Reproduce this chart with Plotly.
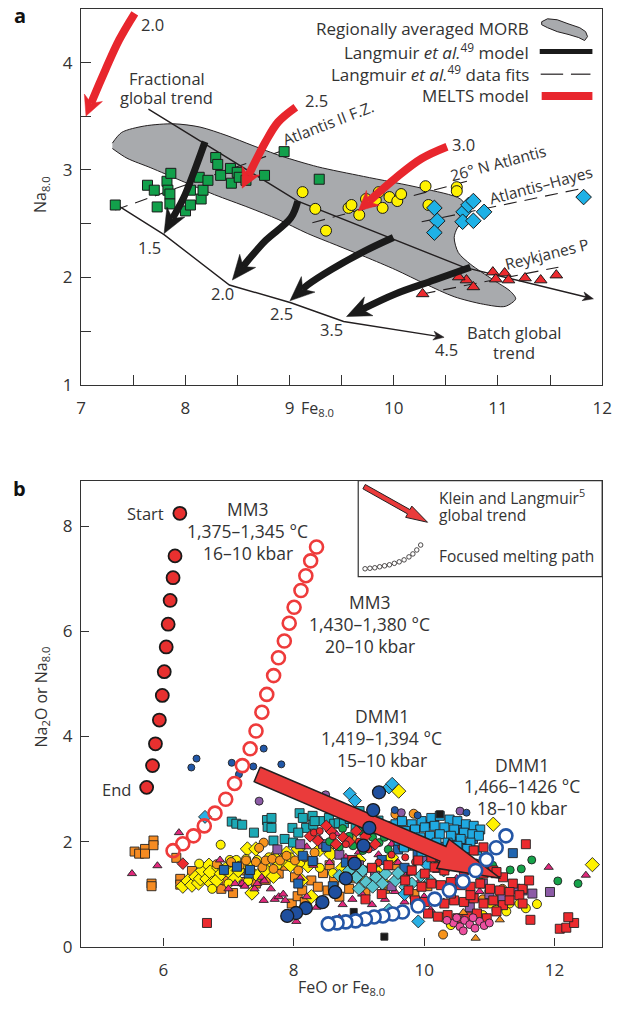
import math
import plotly.graph_objects as go

W, H = 619, 1014
FONT = "Open Sans"
INK = "#333333"

# ======================= PANEL A DATA =======================
morb_x = [7.30, 7.39, 7.61, 7.89, 8.14, 8.40, 8.64, 8.92, 9.27, 9.71, 10.27, 10.64, 10.71, 10.70,
          10.61, 10.58, 10.62, 10.74, 10.95, 11.12, 11.17, 11.07, 10.86, 10.58, 10.30, 10.02,
          9.73, 9.45, 9.17, 8.89, 8.61, 8.28, 7.96, 7.67, 7.44, 7.30]
morb_y = [3.25, 3.35, 3.41, 3.43, 3.40, 3.32, 3.23, 3.13, 3.03, 2.94, 2.83, 2.73, 2.63, 2.56,
          2.46, 2.37, 2.23, 2.12, 1.98, 1.87, 1.80, 1.73, 1.75, 1.82, 1.94, 2.07,
          2.19, 2.30, 2.41, 2.54, 2.65, 2.77, 2.90, 3.02, 3.11, 3.20]

frac_x = [7.646, 9.079, 10.67, 11.916]
frac_y = [3.567, 2.711, 2.095, 1.800]
batch_x = [7.328, 7.796, 8.423, 9.013, 9.519, 10.483]
batch_y = [2.684, 2.398, 1.929, 1.764, 1.589, 1.442]

model_arrows = [
    ([8.189, 8.096, 7.983, 7.796], [3.263, 3.015, 2.739, 2.408]),
    ([9.079, 9.013, 8.770, 8.610, 8.451], [2.711, 2.555, 2.343, 2.168, 1.975]),
    ([9.996, 9.734, 9.406, 9.172, 9.004], [2.371, 2.251, 2.076, 1.929, 1.782]),
    ([10.736, 10.390, 10.015, 9.547], [2.095, 1.975, 1.846, 1.635]),
]
melts_arrows = [
    ([7.515, 7.365, 7.234, 7.112, 7.047], [4.459, 4.211, 3.935, 3.659, 3.502]),
    ([9.060, 8.891, 8.770, 8.639, 8.545], [3.585, 3.447, 3.263, 3.015, 2.831]),
    ([10.511, 10.268, 10.015, 9.828, 9.659], [3.217, 3.107, 2.923, 2.766, 2.619]),
]
fits = [
    ([7.328, 8.929], [2.628, 3.180]),
    ([9.219, 10.736], [2.509, 2.904]),
    ([10.268, 11.822], [2.518, 2.831]),
    ([10.277, 11.580], [1.846, 2.095]),
]

green_x = [7.328, 7.637, 7.702, 7.730, 7.824, 7.861, 7.833, 7.852, 7.852, 8.002, 8.049, 8.049, 8.152,
           8.170, 8.133, 8.217, 8.292, 8.311, 8.339, 8.433, 8.442, 8.498, 8.517, 8.582, 8.760, 8.948, 9.285]
green_y = [2.674, 2.858, 2.812, 2.656, 2.895, 2.969, 2.812, 2.776, 2.684, 2.619, 2.812, 2.674, 2.730,
           2.812, 2.932, 2.904, 3.116, 3.052, 2.950, 3.015, 2.877, 2.978, 2.932, 2.904, 2.950, 3.171, 2.914]
yellow_x = [9.125, 9.247, 9.350, 9.566, 9.594, 9.669, 9.734, 9.828, 9.856, 9.893, 9.959, 10.034,
            10.071, 10.305, 10.333, 10.605, 10.605]
yellow_y = [2.794, 2.638, 2.435, 2.647, 2.674, 2.582, 2.730, 2.720, 2.794, 2.647, 2.748, 2.711,
            2.776, 2.849, 2.674, 2.840, 2.803]
blue_x = [10.390, 10.418, 10.390, 10.670, 10.717, 10.764, 10.661, 10.764, 10.867, 11.822]
blue_y = [2.647, 2.527, 2.417, 2.610, 2.674, 2.711, 2.518, 2.527, 2.610, 2.748]
redtri_x = [10.277, 10.698, 10.764, 10.951, 10.979, 11.064, 11.101, 11.260, 11.410, 11.560, 10.624]
redtri_y = [1.846, 1.975, 1.911, 2.049, 1.984, 2.040, 1.975, 1.994, 1.975, 2.021, 2.003]

# ======================= PANEL B DATA =======================
orange_sq_x = [5.56, 5.63, 5.72, 5.72, 5.85, 5.85, 5.82, 5.82, 6.20, 6.26, 6.26, 6.44, 6.67, 6.89, 6.97, 7.07,
               7.22, 7.24, 7.36, 7.42, 7.57, 7.62, 7.77, 7.87, 7.97, 8.02, 8.06, 8.13, 8.17, 8.27, 8.37, 8.52,
               8.45, 8.62, 8.70, 8.85, 8.95, 9.10, 9.25, 9.40, 9.55, 9.70, 9.85, 10.05, 8.30, 8.55, 7.10, 6.85]
orange_sq_y = [1.81, 1.77, 1.86, 1.77, 2.02, 1.93, 1.20, 1.15, 1.69, 1.29, 1.18, 1.44, 1.32, 1.10, 1.26, 1.02,
               1.45, 1.23, 1.36, 1.20, 1.27, 1.45, 1.39, 1.54, 0.82, 1.32, 0.96, 1.07, 0.85, 1.26, 1.14, 1.07,
               1.40, 1.25, 0.95, 1.10, 1.30, 1.05, 1.45, 1.10, 1.55, 1.30, 1.00, 1.15, 1.60, 1.55, 1.60, 1.45]
yellow_dia_x = [6.30, 6.38, 6.44, 6.50, 6.54, 6.57, 6.60, 6.67, 6.70, 6.72, 6.74, 6.82, 6.85, 6.89, 6.95, 7.04,
                7.10, 7.15, 7.29, 7.30, 7.36, 7.37, 7.42, 7.45, 7.55, 7.57, 7.69, 7.70, 7.80, 7.89, 7.95, 8.07,
                8.12, 8.22, 8.27, 8.57, 8.40, 8.75, 9.00, 9.30, 9.50, 12.58, 9.61, 11.06]
yellow_dia_y = [1.15, 1.25, 1.17, 1.33, 1.21, 1.29, 1.45, 1.29, 1.55, 1.42, 1.20, 1.26, 1.50, 1.39, 1.47, 1.39,
                1.30, 1.45, 1.86, 1.55, 1.02, 1.39, 1.86, 1.35, 1.55, 1.45, 1.34, 1.70, 1.62, 1.78, 1.55, 1.86,
                1.26, 1.54, 0.95, 1.76, 1.85, 1.50, 1.65, 1.40, 1.70, 1.56, 2.96, 2.33]
yellow_circ_x = [6.55, 6.88, 7.02, 7.12, 7.27, 7.44, 7.62, 7.75, 7.95, 8.10, 8.40, 8.60, 7.30, 7.00, 6.75, 8.85,
                 9.10, 9.40, 10.41, 10.66, 11.16, 11.31, 11.56, 11.73, 11.11, 11.46, 11.01, 11.26, 10.90, 10.30, 9.90]
yellow_circ_y = [1.58, 1.94, 1.65, 1.65, 1.67, 1.65, 1.70, 1.55, 1.70, 1.60, 1.50, 1.40, 1.25, 1.20, 1.10, 1.30,
                 1.25, 1.20, 0.41, 0.51, 0.92, 0.82, 0.73, 0.81, 0.70, 0.82, 0.82, 0.67, 0.60, 0.55, 0.80]
orange_circ_x = [7.42, 7.52, 7.54, 7.57, 7.67, 7.69, 7.79, 7.89, 8.02, 8.07, 8.17, 8.32, 8.49, 8.62, 7.17, 7.27,
                 7.04, 7.47, 6.82, 8.90, 9.15, 9.45, 10.29, 10.90, 11.20, 9.56, 9.84]
orange_circ_y = [1.61, 1.51, 1.98, 1.64, 1.67, 1.48, 1.64, 1.73, 1.64, 1.45, 1.70, 1.79, 1.89, 1.95, 1.54, 1.64,
                 1.61, 1.88, 1.57, 2.05, 2.15, 2.30, 0.23, 0.90, 1.10, 2.52, 2.53]
teal_sq_x = [7.05, 7.12, 7.21, 7.39, 7.59, 7.66, 7.60, 7.66, 7.69, 7.86, 8.09, 7.98, 7.99, 8.14, 8.29, 8.41,
             8.54, 8.62, 8.19, 8.07, 8.30, 8.69, 8.77, 8.32, 8.71, 8.86, 9.01, 9.15, 9.30, 9.20, 8.95]
teal_sq_y = [2.38, 2.34, 2.32, 2.17, 2.41, 2.45, 2.28, 2.26, 2.02, 2.05, 2.54, 2.26, 1.98, 2.45, 2.49, 2.39,
             2.45, 2.34, 2.26, 2.17, 2.32, 2.35, 2.35, 2.39, 2.58, 2.43, 2.58, 2.45, 2.40, 2.30, 2.30]
lblue_sq_x = [9.56, 9.66, 9.81, 9.96, 10.11, 10.24, 10.39, 10.51, 10.64, 10.76, 10.86,
              9.51, 9.71, 9.86, 10.01, 10.16, 10.31, 10.46, 10.61, 10.74, 10.84,
              9.61, 9.79, 9.94, 10.09, 10.24, 10.41, 10.56, 10.71,
              9.69, 9.86, 10.04, 10.19, 10.36, 10.51, 10.66, 10.81,
              9.96, 10.16, 10.34, 10.49, 10.64]
lblue_sq_y = [2.33, 2.39, 2.33, 2.39, 2.45, 2.49, 2.42, 2.39, 2.33, 2.30, 2.23,
              2.17, 2.20, 2.23, 2.27, 2.30, 2.27, 2.23, 2.17, 2.14, 2.11,
              2.02, 2.08, 2.08, 2.11, 2.14, 2.11, 2.05, 1.98,
              1.89, 1.92, 1.95, 1.98, 1.98, 1.92, 1.86, 1.83,
              1.80, 1.83, 1.83, 1.73, 1.70]
blue_sq_x = [6.93, 7.13, 7.31, 7.33, 8.07, 8.29, 8.14, 8.50, 8.80, 9.05, 9.35, 9.60, 9.85, 10.05, 10.30, 10.60,
             10.20, 9.90, 10.45, 11.36, 10.75, 10.55, 10.15, 9.70, 8.60]
blue_sq_y = [1.46, 1.52, 1.39, 1.46, 1.20, 1.63, 1.73, 1.90, 1.60, 1.45, 1.65, 1.85, 2.20, 2.00, 1.90, 1.95,
             1.70, 1.75, 2.00, 1.78, 2.05, 2.25, 2.35, 1.50, 1.15]
pink_tri_x = [5.52, 5.91, 6.24, 6.87, 7.00, 7.10, 7.21, 7.25, 7.40, 7.44, 7.51, 7.54, 7.55, 7.65, 7.71, 7.77,
              7.84, 7.87, 8.04, 8.10, 8.20, 8.30, 8.35, 8.45, 8.55, 8.60, 8.70, 8.75, 8.80, 8.90, 9.00, 9.05,
              9.20, 9.30, 9.40, 9.55, 9.60, 9.70, 9.90, 10.10, 10.30, 8.40, 8.65, 9.10, 9.50, 9.75, 10.50,
              10.85, 11.10, 10.00, 10.20, 11.91, 12.48, 10.70, 8.20]
pink_tri_y = [1.39, 1.54, 2.17, 1.65, 1.10, 1.20, 1.20, 1.15, 1.10, 1.20, 1.32, 0.88, 1.25, 1.10, 0.90, 0.95,
              1.00, 0.88, 0.48, 1.30, 0.95, 1.55, 0.75, 0.85, 1.60, 0.50, 0.55, 0.80, 1.70, 0.90, 1.80, 1.00,
              0.80, 1.75, 0.90, 1.05, 1.60, 0.85, 1.20, 0.70, 0.85, 2.05, 2.15, 2.00, 1.95, 1.40, 1.30,
              1.05, 1.35, 0.95, 1.45, 1.51, 1.36, 2.25, 1.90]
purple_sq_x = [8.45, 8.70, 9.00, 9.25, 9.50, 9.80, 10.00, 10.40, 10.70, 11.00, 11.20, 11.40, 11.51, 11.66,
               11.93, 10.90, 8.10, 7.75]
purple_sq_y = [1.95, 1.75, 1.55, 1.35, 1.15, 1.45, 1.65, 1.10, 0.75, 1.00, 0.95, 1.10, 1.07, 1.01,
               1.04, 1.20, 1.95, 1.85]
purple_circ_x = [7.47, 8.49, 9.65, 10.08, 10.55, 10.95, 9.20]
purple_circ_y = [2.77, 2.89, 2.55, 2.35, 2.58, 0.55, 1.90]
turq_dia_x = [8.96, 9.11, 9.26, 9.36, 9.56, 9.71, 9.81, 9.21, 9.41, 9.06, 9.46, 8.85, 9.60, 9.95, 10.10, 8.70, 9.00]
turq_dia_y = [1.32, 1.23, 1.32, 1.20, 1.26, 1.14, 1.20, 1.14, 1.39, 1.45, 0.70, 1.45, 1.40, 1.35, 1.25, 1.35, 1.10]
lblue_dia_x = [8.86, 8.94, 9.46, 9.51, 9.91, 10.30, 10.05, 9.70, 6.64]
lblue_dia_y = [2.91, 2.78, 3.03, 3.10, 0.48, 1.45, 1.55, 1.00, 2.47]
green_circ_x = [8.55, 8.70, 8.85, 8.91, 9.06, 9.21, 9.31, 9.39, 9.45, 9.00, 8.75, 9.60, 9.75, 10.20, 10.40,
                11.32, 11.49, 11.65, 12.05, 12.36, 10.85, 11.05]
green_circ_y = [2.00, 1.90, 2.10, 1.92, 1.83, 2.08, 1.98, 2.08, 1.85, 2.20, 2.25, 2.05, 1.90, 1.55, 1.65,
                1.46, 1.48, 1.65, 1.25, 1.20, 1.35, 1.55]
red_circ_x = [8.31, 8.40, 8.60, 8.80, 9.00, 9.15, 9.30, 9.50, 9.71, 9.86, 10.06, 10.25, 10.45, 10.65, 10.80,
              11.00, 9.95, 9.65]
red_circ_y = [2.17, 2.20, 2.10, 1.95, 2.00, 1.85, 1.60, 1.75, 1.70, 1.61, 1.58, 1.65, 1.55, 1.45, 1.60,
              1.45, 1.85, 1.90]
red_dia_x = [6.30, 8.37, 8.57, 8.76, 8.96, 8.50, 8.65, 8.85, 9.10, 9.25, 8.25, 9.40]
red_dia_y = [1.58, 2.02, 2.20, 2.08, 2.20, 2.30, 1.95, 2.00, 2.10, 1.95, 2.10, 2.20]
red_sq_x = [10.01, 10.16, 10.31, 10.46, 10.61, 10.76, 10.91, 11.06, 11.21, 11.36, 11.51, 11.61,
            9.96, 10.11, 10.26, 10.41, 10.56, 10.71, 10.86, 11.01, 11.16, 11.31, 11.46,
            9.86, 10.01, 10.16, 10.31, 10.46, 10.61, 10.76, 10.91, 11.06, 11.21,
            10.06, 10.21, 10.36, 10.51, 10.66, 10.81, 10.96, 11.11,
            9.71, 9.76, 9.81, 9.91, 10.11, 10.76, 10.91, 11.11,
            10.41, 10.71, 11.31, 11.51, 11.56, 12.08, 12.18, 12.30, 12.21, 11.63, 6.67,
            9.20, 9.45, 9.10, 9.35, 8.90]
red_sq_y = [1.39, 1.51, 1.45, 1.54, 1.45, 1.51, 1.39, 1.45, 1.32, 1.20, 1.10, 1.26,
            1.14, 1.20, 1.17, 1.23, 1.17, 1.14, 1.20, 1.10, 1.07, 1.04, 0.98,
            0.88, 0.85, 0.92, 0.82, 0.88, 0.85, 0.92, 0.82, 0.88, 0.79,
            0.63, 0.57, 0.60, 0.54, 0.57, 0.63, 0.54, 0.67,
            1.26, 1.07, 1.45, 1.64, 1.70, 1.83, 1.89, 1.42,
            1.01, 0.98, 0.88, 0.82, 1.95, 0.34, 0.36, 0.45, 0.56, 0.51, 0.45,
            1.50, 1.55, 0.90, 1.00, 1.65]
pink_circ_x = [10.45, 10.55, 10.62, 10.70, 10.78, 10.85, 10.92, 11.00, 10.50, 10.75, 10.60, 10.35]
pink_circ_y = [0.45, 0.38, 0.50, 0.42, 0.35, 0.48, 0.40, 0.45, 0.55, 0.55, 0.30, 0.50]
blue_circ_x = [6.43, 6.51, 7.05, 7.16, 7.38, 7.54, 7.81, 9.55, 9.90, 10.65]
blue_circ_y = [3.41, 3.58, 3.50, 3.28, 3.43, 3.77, 3.47, 2.60, 2.50, 2.55]
black_sq_x = [9.39, 8.92, 10.24]
black_sq_y = [0.19, 0.66, 2.52]
orange_tri_x = [10.79, 11.16, 10.60]
orange_tri_y = [0.16, 0.51, 0.65]

# model melting paths
mm3a_x = [6.254, 6.180, 6.150, 6.105, 6.075, 6.045, 6.015, 5.985, 5.940, 5.880, 5.835, 5.745]
mm3a_y = [8.249, 7.439, 7.024, 6.591, 6.139, 5.706, 5.235, 4.783, 4.313, 3.861, 3.446, 3.032]
mm3b_x = [8.350, 8.260, 8.186, 8.111, 8.006, 7.931, 7.856, 7.766, 7.692, 7.587, 7.512, 7.422, 7.332,
          7.213, 7.093, 6.958, 6.793, 6.629, 6.464, 6.299, 6.150]
mm3b_y = [7.608, 7.345, 7.062, 6.780, 6.460, 6.158, 5.819, 5.499, 5.160, 4.802, 4.463, 4.105, 3.766,
          3.446, 3.107, 2.806, 2.542, 2.298, 2.109, 1.959, 1.827]
dmm1a_x = [9.308, 9.219, 9.159, 9.069, 8.934, 8.799, 8.635, 8.440, 8.186, 8.036, 7.901]
dmm1a_y = [2.938, 2.599, 2.260, 1.921, 1.582, 1.299, 1.036, 0.847, 0.734, 0.640, 0.584]
dmm1b_x = [11.254, 11.105, 10.955, 10.790, 10.596, 10.386, 10.162, 9.907, 9.668, 9.518, 9.368, 9.234,
           9.099, 8.949, 8.799, 8.665, 8.530]
dmm1b_y = [2.109, 1.883, 1.657, 1.450, 1.243, 1.073, 0.904, 0.772, 0.659, 0.621, 0.584, 0.565,
           0.527, 0.490, 0.471, 0.452, 0.433]
klein_start = (7.44, 3.28)
klein_end = (11.17, 1.30)

# ======================= GEOMETRY =======================
GA = dict(l=78, r=612, t=9, b=389, xr=(7, 12), yr=(1, 4.5))
GB = dict(l=78, r=612, t=486, b=957, xr=(4.74, 12.73), yr=(0, 8.87))


def scale(g):
    return ((g['r'] - g['l']) / (g['xr'][1] - g['xr'][0]),
            (g['b'] - g['t']) / (g['yr'][1] - g['yr'][0]))


SA, SB = scale(GA), scale(GB)


def P(x, y):
    return x / W, 1 - y / H


def arrow(xs, ys, s, hl, hw, notch=0.28):
    sx, sy = s
    xt, yt = xs[-1], ys[-1]
    dx, dy = (xt - xs[-2]) * sx, (yt - ys[-2]) * sy
    L = math.hypot(dx, dy)
    ux, uy = dx / L, dy / L
    nx, ny = -uy, ux
    cut = hl * (1 - notch)
    bx, by = [], []
    for x, y in zip(xs[:-1], ys[:-1]):
        if math.hypot((x - xt) * sx, (y - yt) * sy) > cut + 2:
            bx.append(x)
            by.append(y)
    bx.append(xt - ux * cut / sx)
    by.append(yt - uy * cut / sy)
    rel = [(0, 0), (-ux * hl + nx * hw, -uy * hl + ny * hw), (-ux * cut, -uy * cut),
           (-ux * hl - nx * hw, -uy * hl - ny * hw), (0, 0)]
    hx = [xt + a / sx for a, b in rel]
    hy = [yt + b / sy for a, b in rel]
    return bx, by, hx, hy


fig = go.Figure()


def add_arrow(xs, ys, s, color, width, hl, hw, xa, ya, notch=0.28, spline=True):
    bx, by, hx, hy = arrow(xs, ys, s, hl, hw, notch)
    fig.add_trace(go.Scatter(x=bx, y=by, mode='lines', xaxis=xa, yaxis=ya,
                             line=dict(color=color, width=width, shape='spline' if spline else 'linear'),
                             hoverinfo='skip', showlegend=False))
    fig.add_trace(go.Scatter(x=hx, y=hy, mode='lines', fill='toself', fillcolor=color, xaxis=xa, yaxis=ya,
                             line=dict(color=color, width=0.5), hoverinfo='skip', showlegend=False))


# ---------------- panel a traces ----------------
fig.add_trace(go.Scatter(x=morb_x, y=morb_y, mode='lines', fill='toself', fillcolor='#a8aaad',
                         line=dict(color='#231f20', width=1, shape='spline', smoothing=0.8),
                         xaxis='x', yaxis='y', hoverinfo='skip', showlegend=False))
add_arrow(frac_x, frac_y, SA, '#231f20', 1.4, 11, 4.5, 'x', 'y', spline=False)
add_arrow(batch_x, batch_y, SA, '#231f20', 1.4, 11, 4.5, 'x', 'y', spline=False)
for fx, fy in fits:
    fig.add_trace(go.Scatter(x=fx, y=fy, mode='lines', xaxis='x', yaxis='y',
                             line=dict(color='#231f20', width=1.1, dash='13px,8px'),
                             hoverinfo='skip', showlegend=False))

mk_line = dict(color='#1a1a1a', width=1)
for xs, ys, sym, col, sz in [
    (green_x, green_y, 'square', '#12a04b', 10),
    (yellow_x, yellow_y, 'circle', '#fff200', 11),
    (blue_x, blue_y, 'diamond', '#1eb1e6', 12),
    (redtri_x, redtri_y, 'triangle-up', '#ec2a2e', 11),
]:
    fig.add_trace(go.Scatter(x=xs, y=ys, mode='markers', xaxis='x', yaxis='y',
                             marker=dict(symbol=sym, color=col, size=sz, line=mk_line),
                             hoverinfo='skip', showlegend=False))

for xs, ys in model_arrows:
    add_arrow(xs, ys, SA, '#1a1a1a', 7, 25, 10.5, 'x', 'y', notch=0.3)
for xs, ys in melts_arrows:
    add_arrow(xs, ys, SA, '#e8262d', 8, 20, 10, 'x', 'y', notch=0.3)

# ---------------- panel b traces ----------------
cloud = [
    (orange_sq_x, orange_sq_y, 'square', '#f58b22', 9),
    (yellow_dia_x, yellow_dia_y, 'diamond', '#fff200', 11),
    (yellow_circ_x, yellow_circ_y, 'circle', '#fff200', 9),
    (orange_circ_x, orange_circ_y, 'circle', '#f7941d', 9),
    (teal_sq_x, teal_sq_y, 'square', '#1ba9b6', 9),
    (pink_tri_x, pink_tri_y, 'triangle-up', '#e2287c', 8),
    (purple_sq_x, purple_sq_y, 'square', '#8c5ba6', 9),
    (purple_circ_x, purple_circ_y, 'circle', '#8c5ba6', 8),
    (blue_sq_x, blue_sq_y, 'square', '#2166b1', 9),
    (green_circ_x, green_circ_y, 'circle', '#16a34a', 8),
    (red_dia_x, red_dia_y, 'diamond', '#ec2a2e', 9),
    (red_circ_x, red_circ_y, 'circle', '#ec2a2e', 7),
    (turq_dia_x, turq_dia_y, 'diamond', '#58c4cf', 10),
    (lblue_sq_x, lblue_sq_y, 'square', '#1fa9e1', 9),
    (lblue_dia_x, lblue_dia_y, 'diamond', '#29b0e5', 10),
    (red_sq_x, red_sq_y, 'square', '#ec2a2e', 9),
    (pink_circ_x, pink_circ_y, 'circle', '#ec4f9f', 8),
    (blue_circ_x, blue_circ_y, 'circle', '#2258a8', 7),
    (black_sq_x, black_sq_y, 'square', '#1a1a1a', 7),
    (orange_tri_x, orange_tri_y, 'triangle-up', '#f7941d', 8),
]
for xs, ys, sym, col, sz in cloud:
    fig.add_trace(go.Scatter(x=xs, y=ys, mode='markers', xaxis='x2', yaxis='y2',
                             marker=dict(symbol=sym, color=col, size=sz, line=dict(color='#222', width=0.9)),
                             hoverinfo='skip', showlegend=False))


def block_arrow(p0, p1, s, hw, hl, hh):
    sx, sy = s
    dx, dy = (p1[0] - p0[0]) * sx, (p1[1] - p0[1]) * sy
    L = math.hypot(dx, dy)
    ux, uy = dx / L, dy / L
    nx, ny = -uy, ux
    bl = L - hl
    rel = [(nx * hw, ny * hw), (ux * bl + nx * hw, uy * bl + ny * hw), (ux * bl + nx * hh, uy * bl + ny * hh),
           (ux * L, uy * L), (ux * bl - nx * hh, uy * bl - ny * hh), (ux * bl - nx * hw, uy * bl - ny * hw),
           (-nx * hw, -ny * hw), (nx * hw, ny * hw)]
    return [p0[0] + a / sx for a, b in rel], [p0[1] + b / sy for a, b in rel]


kx, ky = block_arrow(klein_start, klein_end, SB, 8, 64, 16)
fig.add_trace(go.Scatter(x=kx, y=ky, mode='lines', fill='toself', fillcolor='#ea3b3b', xaxis='x2', yaxis='y2',
                         line=dict(color='#231f20', width=1.5), hoverinfo='skip', showlegend=False))

fig.add_trace(go.Scatter(x=mm3a_x, y=mm3a_y, mode='markers', xaxis='x2', yaxis='y2',
                         marker=dict(symbol='circle', color='#e8302f', size=13, line=dict(color='#1a1a1a', width=1.8)),
                         hoverinfo='skip', showlegend=False))
fig.add_trace(go.Scatter(x=mm3b_x, y=mm3b_y, mode='markers', xaxis='x2', yaxis='y2',
                         marker=dict(symbol='circle-open', color='#ee3b3b', size=13, line=dict(color='#ee3b3b', width=2.6)),
                         hoverinfo='skip', showlegend=False))
fig.add_trace(go.Scatter(x=dmm1a_x, y=dmm1a_y, mode='markers', xaxis='x2', yaxis='y2',
                         marker=dict(symbol='circle', color='#1f4f9e', size=13, line=dict(color='#1a1a1a', width=1.3)),
                         hoverinfo='skip', showlegend=False))
fig.add_trace(go.Scatter(x=dmm1b_x, y=dmm1b_y, mode='markers', xaxis='x2', yaxis='y2',
                         marker=dict(symbol='circle', color='white', size=13, line=dict(color='#2456a6', width=2.6)),
                         hoverinfo='skip', showlegend=False))

# ======================= LAYOUT =======================
def ax(g, horizontal, tickvals, ticktext, anchor, ticklen):
    lo, hi = (g['l'], g['r']) if horizontal else (g['b'], g['t'])
    dom = [lo / W, hi / W] if horizontal else [1 - lo / H, 1 - hi / H]
    rng = list(g['xr'] if horizontal else g['yr'])
    return dict(domain=dom, range=rng, anchor=anchor, showgrid=False, zeroline=False, showline=True,
                mirror=True, linecolor=INK, linewidth=1.3, ticks='inside', ticklen=ticklen, tickwidth=1.3,
                tickcolor=INK, tickvals=tickvals, ticktext=ticktext, fixedrange=True,
                ticklabeloverflow='allow', ticklabelstandoff=8 if horizontal else 4,
                tickfont=dict(family=FONT, size=17, color=INK))


a_xt = [7 + 0.5 * i for i in range(11)]
a_yt = [1 + 0.5 * i for i in range(8)]
fmt = lambda v: str(int(v)) if float(v).is_integer() else ''

layout = dict(
    width=W, height=H, autosize=False, margin=dict(l=0, r=0, t=0, b=0),
    paper_bgcolor='white', plot_bgcolor='rgba(0,0,0,0)', showlegend=False,
    xaxis=ax(GA, True, a_xt, [fmt(v) for v in a_xt], 'y', 10),
    yaxis=ax(GA, False, a_yt, [fmt(v) for v in a_yt], 'x', 10),
    xaxis2=ax(GB, True, [6, 8, 10, 12], ['6', '8', '10', '12'], 'y2', 8),
    yaxis2=ax(GB, False, [0, 2, 4, 6, 8], ['0', '2', '4', '6', '8'], 'x2', 8),
)

ann = []


def T(text, x, y, size=16, anchor='center', angle=0, color=INK):
    px, py = P(x, y)
    ann.append(dict(text=text, x=px, y=py, xref='paper', yref='paper', xanchor=anchor, yanchor='middle',
                    showarrow=False, textangle=angle, font=dict(family=FONT, size=size, color=color)))


# panel labels
T('<b>a</b>', 15, 16, size=20, color='#111')
T('<b>b</b>', 15, 494, size=20, color='#111')
# axis titles
T('Na<sub>8.0</sub>', 37, 197, size=16, angle=-90)
T('Fe<sub>8.0</sub>', 320, 413, size=16)
T('Na<sub>2</sub>O or Na<sub>8.0</sub>', 37, 705, size=16, angle=-90)
T('FeO or Fe<sub>8.0</sub>', 345, 998, size=16)

# panel a labels
T('2.0', 137, 25, anchor='left', size=16.5)
T('2.5', 305, 102, anchor='left', size=16.5)
T('3.0', 456, 146, anchor='left', size=16.5)
T('Fractional', 166, 79, size=16.5)
T('global trend', 166, 99, size=16.5)
T('1.5', 148, 250, size=16.5)
T('2.0', 223, 297, size=16.5)
T('2.5', 283, 317, size=16.5)
T('3.5', 335, 333, size=16.5)
T('4.5', 452, 353, size=16.5)
T('Batch global', 522, 336, size=16.5)
T('trend', 522, 356, size=16.5)
T('Atlantis II F.Z.', 331, 124, size=15.5, angle=-21)
T('26° N Atlantis', 505, 165, size=15.5, angle=-15)
T('Atlantis–Hayes', 549, 187, size=15.5, angle=-15)
T('Reykjanes P', 555, 257, size=15.5, angle=-14)

# panel a legend
T('Regionally averaged MORB', 539, 29, anchor='right', size=17)
T('Langmuir <i>et al.</i><sup>49</sup> model', 539, 52, anchor='right', size=17)
T('Langmuir <i>et al.</i><sup>49</sup> data fits', 539, 74, anchor='right', size=17)
T('MELTS model', 539, 97, anchor='right', size=17)

# panel b labels
T('Start', 165, 519, anchor='right', size=16.5)
T('End', 131, 798, anchor='right', size=16.5)
for cx, cy, lines in [
    (249, 515, ['MM3', '1,375–1,345 °C', '16–10 kbar']),
    (374, 609, ['MM3', '1,430–1,380 °C', '20–10 kbar']),
    (386, 724, ['DMM1', '1,419–1,394 °C', '15–10 kbar']),
    (530, 773, ['DMM1', '1,466–1426 °C', '18–10 kbar']),
]:
    for i, t in enumerate(lines):
        T(t, cx, cy + 22 * i, size=17.5)

T('Klein and Langmuir<sup>5</sup>', 443, 502, size=15.5, anchor='left')
T('global trend', 443, 521, size=15.5, anchor='left')
T('Focused melting path', 443, 562, size=15.5, anchor='left')

layout['annotations'] = ann

# ---------------- shapes (legend glyphs) ----------------
shapes = []


def path_px(pts, close=True):
    s = ''
    for i, (x, y) in enumerate(pts):
        px, py = P(x, y)
        s += ('M' if i == 0 else 'L') + f'{px:.5f},{py:.5f}'
    return s + ('Z' if close else '')


blob = [(550, 22), (556, 19), (566, 20), (577, 24), (589, 28), (595, 32), (597, 37), (594, 41),
        (588, 38), (578, 35), (566, 32), (556, 28), (550, 25)]
shapes.append(dict(type='path', xref='paper', yref='paper', path=path_px(blob),
                   fillcolor='#a8aaad', line=dict(color='#231f20', width=1)))


def seg(x0, y0, x1, y1, color, width, dash=None):
    a, b = P(x0, y0)
    c, d = P(x1, y1)
    line = dict(color=color, width=width)
    if dash:
        line['dash'] = dash
    shapes.append(dict(type='line', xref='paper', yref='paper', x0=a, y0=b, x1=c, y1=d, line=line))


seg(548, 52, 602, 52, '#1a1a1a', 5)
seg(549, 75, 572, 75, '#231f20', 1.2)
seg(580, 75, 600, 75, '#231f20', 1.2)
seg(550, 97, 602, 97, '#e8262d', 8)

# legend box (panel b)
bx0, by0 = P(362, 583)
bx1, by1 = P(612, 486)
shapes.append(dict(type='rect', xref='paper', yref='paper', x0=bx0, y0=by0, x1=bx1, y1=by1,
                   line=dict(color=INK, width=1.2)))

# small legend arrow (pixel space)
sx0, sy0, sx1, sy1 = 368, 492, 433, 528
dx, dy = sx1 - sx0, sy1 - sy0
L = math.hypot(dx, dy)
ux, uy = dx / L, dy / L
nx, ny = -uy, ux
hw, hl, hh = 2.5, 22, 6.5
bl = L - hl
rel = [(nx * hw, ny * hw), (ux * bl + nx * hw, uy * bl + ny * hw), (ux * bl + nx * hh, uy * bl + ny * hh),
       (ux * L, uy * L), (ux * bl - nx * hh, uy * bl - ny * hh), (ux * bl - nx * hw, uy * bl - ny * hw),
       (-nx * hw, -ny * hw)]
shapes.append(dict(type='path', xref='paper', yref='paper',
                   path=path_px([(sx0 + a, sy0 + b) for a, b in rel]),
                   fillcolor='#ea3b3b', line=dict(color='#231f20', width=1)))

# focused melting path glyph: small circles
glyph = [(369, 575), (374, 574.5), (379, 574), (384, 573), (389, 572), (394, 571), (399, 569.5),
         (404, 568), (409, 566), (414, 563), (418, 560), (422, 556), (426, 551)]
for gx, gy in glyph:
    a, b = P(gx - 2.3, gy + 2.3)
    c, d = P(gx + 2.3, gy - 2.3)
    shapes.append(dict(type='circle', xref='paper', yref='paper', x0=a, y0=b, x1=c, y1=d,
                       line=dict(color='#231f20', width=0.8), fillcolor='white'))

layout['shapes'] = shapes
fig.update_layout(**layout)
fig.write_html('out.html')
